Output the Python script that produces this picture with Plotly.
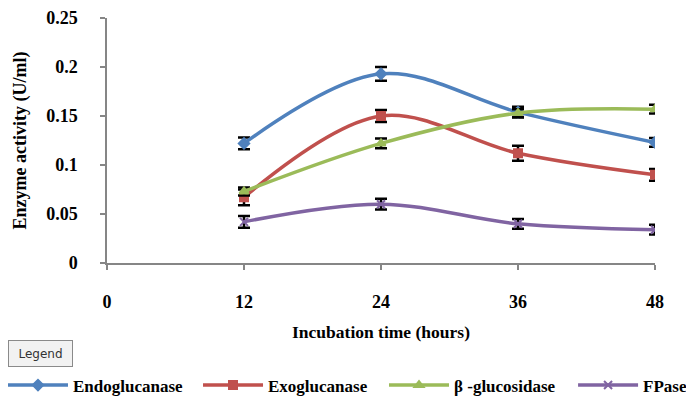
import plotly.graph_objects as go

hours = [12, 24, 36, 48]
series_names = ["Endoglucanase", "Exoglucanase", "β -glucosidase", "FPase"]
endo = [0.122, 0.193, 0.154, 0.123]
endo_err = [0.006, 0.007, 0.0055, 0.0045]
exo = [0.067, 0.150, 0.112, 0.090]
exo_err = [0.008, 0.006, 0.0077, 0.006]
bglu = [0.073, 0.122, 0.153, 0.157]
bglu_err = [0.004, 0.005, 0.004, 0.0045]
fpase = [0.042, 0.060, 0.040, 0.034]
fpase_err = [0.006, 0.0055, 0.005, 0.005]
x_ticks = [0, 12, 24, 36, 48]
y_ticks = [0, 0.05, 0.1, 0.15, 0.2, 0.25]
y_tick_text = ["0", "0.05", "0.1", "0.15", "0.2", "0.25"]

colors = ["#4F81BD", "#C0504D", "#9BBB59", "#8064A2"]
symbols = ["diamond", "square", "triangle-up", "x-thin-open"]
values = [endo, exo, bglu, fpase]
errors = [endo_err, exo_err, bglu_err, fpase_err]
legend_ids = ["legend", "legend2", "legend3", "legend4"]
legend_x = [-0.1898, 0.1661, 0.5055, 0.8505]

serif = "Liberation Serif, Times New Roman, serif"

fig = go.Figure()
for name, v, e, c, s, lg in zip(series_names, values, errors, colors, symbols, legend_ids):
    fig.add_trace(go.Scatter(
        x=hours, y=v, name=name, mode="lines+markers", legend=lg,
        line=dict(color=c, width=3.5, shape="spline", smoothing=1),
        marker=dict(symbol=s, size=8, color=c, line=dict(color=c, width=2)),
        error_y=dict(type="data", array=e, visible=True, color="black", thickness=2.5, width=6),
    ))

legend_style = dict(
    orientation="h", xanchor="left", y=-0.5, yanchor="middle",
    font=dict(family=serif, size=17, color="black", weight="bold"),
    itemwidth=60, bgcolor="rgba(0,0,0,0)",
)
layout_legends = {lg: dict(x=lx, **legend_style) for lg, lx in zip(legend_ids, legend_x)}

fig.update_layout(
    width=686, height=388,
    margin=dict(l=99, r=39, t=10, b=133, autoexpand=False),
    paper_bgcolor="white", plot_bgcolor="white",
    font=dict(family=serif, size=15, color="black"),
    showlegend=True,
    **layout_legends,
    xaxis=dict(
        range=[0, 48], tickvals=x_ticks, ticktext=[str(t) for t in x_ticks],
        showgrid=False, zeroline=False, showline=True, linecolor="#868686", linewidth=1.5,
        ticks="outside", ticklen=5, tickcolor="#868686", tickwidth=1.5,
        tickfont=dict(family=serif, size=18, weight="bold"), ticklabelstandoff=17,
        title=dict(text="Incubation time (hours)", font=dict(family=serif, size=17.5, weight="bold"), standoff=14),
    ),
    yaxis=dict(
        range=[0, 0.25], tickvals=y_ticks, ticktext=y_tick_text,
        showgrid=False, zeroline=False, showline=True, linecolor="#868686", linewidth=1.5,
        ticks="outside", ticklen=5, tickcolor="#868686", tickwidth=1.5,
        tickfont=dict(family=serif, size=18, weight="bold"), ticklabelstandoff=19,
        title=dict(text="Enzyme activity (U/ml)", font=dict(family=serif, size=18, weight="bold"), standoff=15),
    ),
)

fig.add_annotation(
    xref="paper", yref="paper", x=-0.1807, y=-0.3143, xanchor="left", yanchor="top",
    text="Legend", showarrow=False,
    font=dict(family="DejaVu Sans, Noto Sans, sans-serif", size=12, color="#333333"),
    bgcolor="#F2F2F2", bordercolor="#8A8A8A", borderwidth=1, borderpad=3,
    width=57, height=19,
)

fig.write_html("out.html")
